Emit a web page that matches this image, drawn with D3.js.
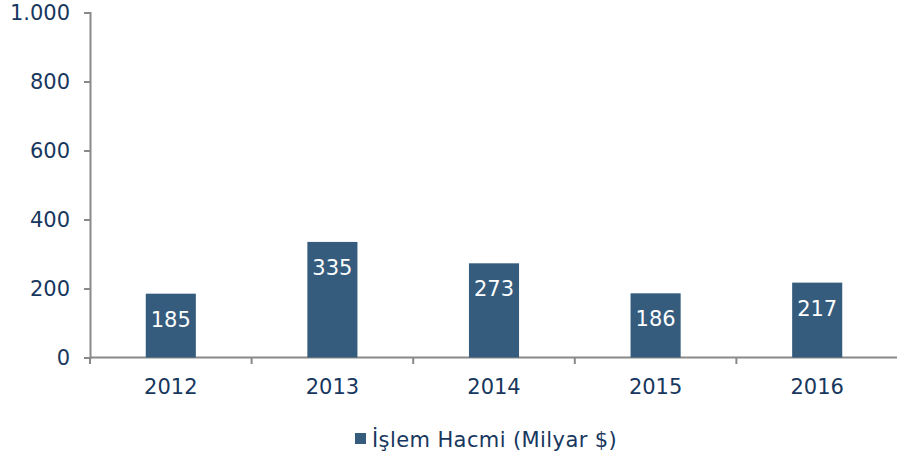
<!DOCTYPE html>
<html><head><meta charset="utf-8">
<script src="https://cdn.jsdelivr.net/npm/d3@7"></script>
<style>body{margin:0;background:#fff}svg{display:block}text{font-family:"DejaVu Sans",Verdana,sans-serif}</style>
</head><body><svg id="c" width="897" height="458"></svg>
<script>
const categories = ["2012","2013","2014","2015","2016"];
const values = [185,335,273,186,217];
const yTicks = [0,200,400,600,800,1000];
const seriesName = "İşlem Hacmi (Milyar $)";

const svg = d3.select("#c");
const textColor = "#17375E", barColor = "#355C7D", axisColor = "#898989";
const fs = "21px";
const x = d3.scaleBand().domain(categories).range([90, 898]).paddingInner(0.69).paddingOuter(0.345);
const y = d3.scaleLinear().domain([0,1000]).range([357.5, 12.5]);
const fmt = v => d3.format(",")(v).replace(/,/g, ".");

// y axis
const ya = svg.append("g").attr("transform","translate(90,0)")
  .call(d3.axisLeft(y).tickValues(yTicks).tickSize(6).tickPadding(14).tickFormat(fmt));
ya.select(".domain").attr("stroke",axisColor).attr("stroke-width",2);
ya.selectAll(".tick line").attr("stroke",axisColor).attr("stroke-width",2);
ya.selectAll(".tick text").attr("fill",textColor).style("font-size",fs).attr("font-family",null);

// x axis
const xa = svg.append("g").attr("transform","translate(0,357.5)")
  .call(d3.axisBottom(x).tickSize(0).tickPadding(22));
xa.select(".domain").remove();
xa.selectAll(".tick text").attr("fill",textColor).style("font-size",fs).attr("font-family",null);
svg.append("line").attr("x1",90).attr("x2",897).attr("y1",357.5).attr("y2",357.5).attr("stroke",axisColor).attr("stroke-width",2);
const bounds = categories.map(c => x(c) - x.step()*x.paddingInner()/2);
bounds.push(bounds[bounds.length-1] + x.step());
svg.selectAll(".xt").data(bounds).enter().append("line")
  .attr("x1",d=>d).attr("x2",d=>d).attr("y1",357.5).attr("y2",364)
  .attr("stroke",axisColor).attr("stroke-width",2);

// bars
svg.selectAll(".bar").data(values).enter().append("rect")
  .attr("x",(d,i)=>x(categories[i])).attr("width",x.bandwidth())
  .attr("y",d=>y(d)).attr("height",d=>y(0)-y(d)).attr("fill",barColor);
svg.selectAll(".lbl").data(values).enter().append("text")
  .attr("x",(d,i)=>x(categories[i])+x.bandwidth()/2).attr("y",d=>y(d)+33)
  .attr("text-anchor","middle").attr("fill","#fff").style("font-size",fs).text(d=>d);

// legend
svg.append("rect").attr("x",355).attr("y",433).attr("width",11).attr("height",11).attr("fill",barColor);
svg.append("text").attr("x",372).attr("y",447).attr("fill",textColor).style("font-size",fs)
  .style("letter-spacing","0.4px").text(seriesName);
</script></body></html>
